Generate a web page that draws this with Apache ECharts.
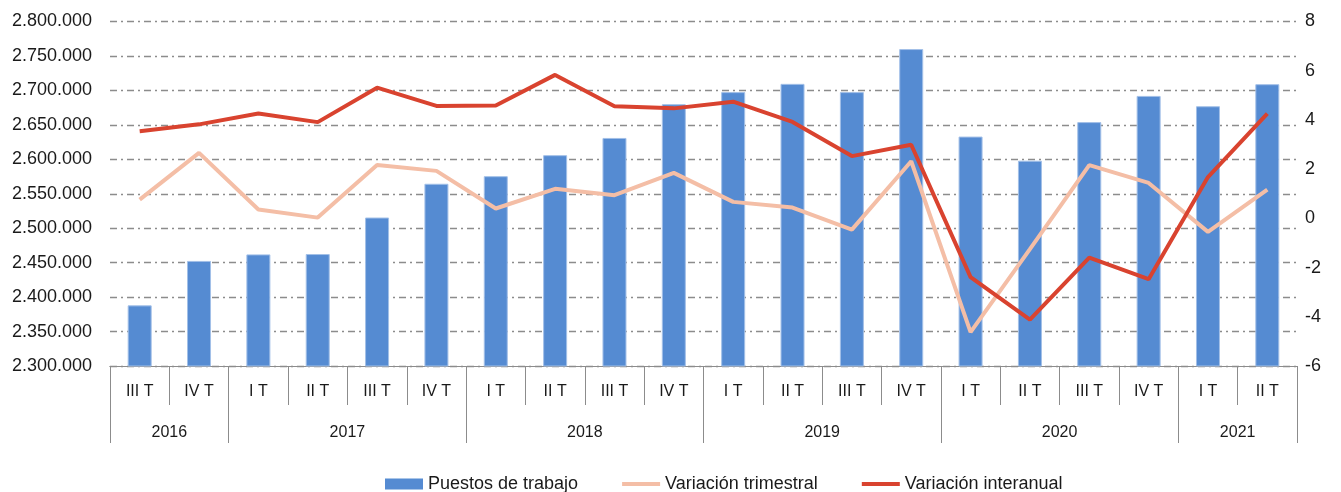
<!DOCTYPE html>
<html>
<head>
<meta charset="utf-8">
<script src="https://cdn.jsdelivr.net/npm/echarts@6/dist/echarts.min.js"></script>
<style>
  html, body { margin: 0; padding: 0; background: #fff; }
  #chart { width: 1341px; height: 492px; }
</style>
</head>
<body>
<div id="chart"></div>
<script>
// trimestres (eje inferior) y años agrupados
var quarters = ['III T', 'IV T', 'I T', 'II T', 'III T', 'IV T', 'I T', 'II T', 'III T', 'IV T',
  'I T', 'II T', 'III T', 'IV T', 'I T', 'II T', 'III T', 'IV T', 'I T', 'II T'];
var years = ['2016', '2017', '2018', '2019', '2020', '2021'];
var quartersPerYear = [2, 4, 4, 4, 4, 2];

// Puestos de trabajo (eje izquierdo)
var puestos = [2388000, 2452500, 2462000, 2462500, 2515500, 2564500, 2575500, 2606000, 2631000, 2680000,
  2697500, 2709500, 2697500, 2760000, 2633000, 2598000, 2654000, 2692000, 2677000, 2709000];
// variaciones en % (eje derecho)
var varTrimestral = [0.76, 2.66, 0.36, 0.03, 2.17, 1.93, 0.40, 1.20, 0.94, 1.85,
  0.67, 0.44, -0.46, 2.32, -4.62, -1.25, 2.16, 1.44, -0.55, 1.17];
var varInteranual = [3.54, 3.82, 4.26, 3.91, 5.31, 4.57, 4.59, 5.83, 4.56, 4.47,
  4.74, 3.92, 2.53, 2.99, -2.39, -4.12, -1.60, -2.47, 1.68, 4.26];

var leftTicks = { min: 2300000, max: 2800000, interval: 50000 };
var rightTicks = { min: -6, max: 8, interval: 2 };

// eje de años: 21 posiciones (bordes entre trimestres), etiqueta en el centro de cada grupo
var yearSlots = [];
var yearBorders = {};
var pos = 0;
for (var i = 0; i <= quarters.length; i++) yearSlots.push('');
yearBorders[0] = true;
years.forEach(function (y, k) {
  yearSlots[pos + quartersPerYear[k] / 2] = y;
  pos += quartersPerYear[k];
  yearBorders[pos] = true;
});

function fmtMiles(v) {
  return String(v).replace(/\B(?=(\d{3})+(?!\d))/g, '.');
}

var gridColor = '#8c8c8c';
var txt = '#1a1a1a';
var font = 'Liberation Sans';
var lineIcon = 'path://M0,0L40,0L40,4L0,4Z';

var chart = echarts.init(document.getElementById('chart'));
var option = {
  animation: false,
  textStyle: { fontFamily: font },
  grid: { left: 110, right: 44, top: 21.5, bottom: 126, containLabel: false, outerBoundsMode: 'none' },
  legend: {
    left: 380,
    top: 470,
    itemGap: 44,
    itemWidth: 38,
    itemHeight: 11,
    symbolKeepAspect: true,
    itemStyle: { borderWidth: 0 },
    textStyle: { fontSize: 18, color: txt, fontFamily: font },
    data: [
      { name: 'Puestos de trabajo', icon: 'rect' },
      { name: 'Variación trimestral', icon: lineIcon },
      { name: 'Variación interanual', icon: lineIcon }
    ]
  },
  xAxis: [{
    type: 'category',
    data: quarters,
    position: 'bottom',
    axisLine: { onZero: false, lineStyle: { color: gridColor, width: 1 } },
    axisTick: { show: true, interval: 0, alignWithLabel: false, length: 39, lineStyle: { color: gridColor } },
    axisLabel: { interval: 0, margin: 18, fontSize: 16, color: txt, fontFamily: font }
  }, {
    type: 'category',
    data: yearSlots,
    boundaryGap: false,
    position: 'bottom',
    offset: 0,
    axisLine: { onZero: false, lineStyle: { color: gridColor, width: 1 } },
    axisTick: {
      show: true, length: 77, lineStyle: { color: gridColor },
      interval: function (idx) { return !!yearBorders[idx]; }
    },
    axisLabel: {
      margin: 59, fontSize: 16, color: txt, fontFamily: font,
      interval: function (idx, val) { return val !== ''; }
    }
  }],
  yAxis: [{
    type: 'value',
    min: leftTicks.min,
    max: leftTicks.max,
    interval: leftTicks.interval,
    axisLine: { show: false },
    axisTick: { show: false },
    axisLabel: { margin: 18, fontSize: 18, color: txt, fontFamily: font, formatter: fmtMiles },
    splitLine: { lineStyle: { color: gridColor, width: 1.3, type: [7, 4, 2, 4] } }
  }, {
    type: 'value',
    min: rightTicks.min,
    max: rightTicks.max,
    interval: rightTicks.interval,
    position: 'right',
    axisLine: { show: false },
    axisTick: { show: false },
    axisLabel: { margin: 8, fontSize: 18, color: txt, fontFamily: font },
    splitLine: { show: false }
  }],
  series: [{
    name: 'Puestos de trabajo',
    type: 'bar',
    data: puestos,
    barWidth: 24,
    itemStyle: { color: '#558bd2', borderColor: '#a3c0e8', borderWidth: 1 }
  }, {
    name: 'Variación trimestral',
    type: 'line',
    yAxisIndex: 1,
    data: varTrimestral,
    symbol: 'none',
    color: '#f4bea6',
    lineStyle: { color: '#f4bea6', width: 4 }
  }, {
    name: 'Variación interanual',
    type: 'line',
    yAxisIndex: 1,
    data: varInteranual,
    symbol: 'none',
    color: '#d9432f',
    lineStyle: { color: '#d9432f', width: 4 }
  }]
};
chart.setOption(option);
</script>
</body>
</html>
